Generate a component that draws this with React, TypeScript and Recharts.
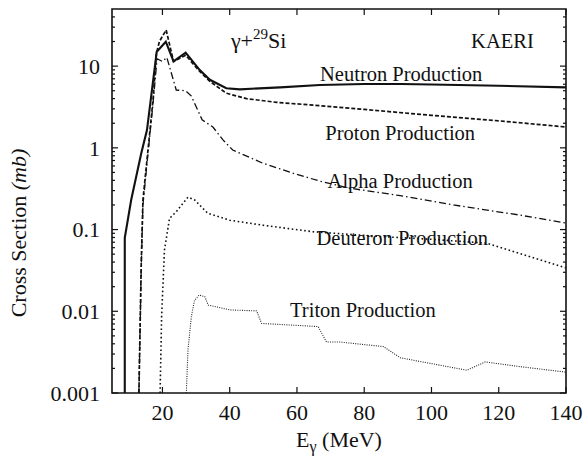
import React from 'react';
import { LineChart, Line, XAxis, YAxis, ReferenceDot, ReferenceArea, Label } from 'recharts';

// ---- data (E in MeV, cross section in mb) ----
const neutronE = [8.8, 8.8, 10.7, 13.7, 15.4, 18.3, 21.0, 23.3, 26.9, 31.1, 34.1, 39.0, 43.0, 55.0, 66.8, 80, 91, 100, 120, 140];
const neutronV = [0.001, 0.079, 0.23, 0.86, 1.65, 15.0, 19.9, 11.4, 14.6, 8.95, 6.8, 5.36, 5.2, 5.5, 5.87, 6.05, 6.05, 5.95, 5.75, 5.5];

const protonE = [13.0, 13.7, 14.2, 15.7, 17.2, 18.2, 19.1, 21.1, 23.3, 26.9, 31.1, 34.1, 39.0, 45.0, 54.0, 62, 80, 100, 120, 140];
const protonV = [0.001, 0.039, 0.23, 0.94, 3.85, 14.3, 20.0, 27.7, 11.4, 13.6, 8.6, 6.5, 4.66, 4.0, 3.6, 3.4, 2.95, 2.5, 2.14, 1.8];

const alphaE = [13.0, 13.7, 14.2, 15.7, 17.2, 18.4, 20.0, 21.3, 24.1, 26.9, 28.6, 31.8, 35.0, 38.0, 40.9, 49.8, 58.8, 66.9, 75.8, 90.7, 106.5, 126.4, 140];
const alphaV = [0.001, 0.035, 0.2, 0.85, 3.5, 12.3, 11.4, 12.8, 5.1, 5.0, 4.3, 2.2, 1.8, 1.25, 0.94, 0.65, 0.49, 0.39, 0.32, 0.26, 0.2, 0.15, 0.12];

const deuteronE = [19.3, 19.75, 20.6, 22.1, 24.1, 27.6, 29.6, 33.5, 40.0, 49.9, 64.8, 85, 100, 116.5, 140];
const deuteronV = [0.001, 0.0086, 0.056, 0.137, 0.165, 0.25, 0.23, 0.158, 0.13, 0.113, 0.094, 0.082, 0.076, 0.068, 0.034];

const tritonE = [27.1, 27.6, 28.6, 29.5, 30.9, 32.6, 33.6, 40.0, 48.0, 49.5, 66.3, 68.8, 72.8, 85.7, 90.7, 110.5, 116, 126.4, 140];
const tritonV = [0.001, 0.0034, 0.0086, 0.0135, 0.0158, 0.0151, 0.0119, 0.0104, 0.0101, 0.0071, 0.0065, 0.0042, 0.0042, 0.0037, 0.0027, 0.0019, 0.0024, 0.0021, 0.0018];

const xTicks = [20, 40, 60, 80, 100, 120, 140];
const yMajor = [0.001, 0.01, 0.1, 1, 10];
const yMajorLabels = ['0.001', '0.01', '0.1', '1', '10'];
const yMinorMult = [2, 3, 4, 5, 6, 7, 8, 9];

const zip = (es: number[], vs: number[]) => es.map((e, i) => ({ e, v: vs[i] }));
const neutron = zip(neutronE, neutronV);
const proton = zip(protonE, protonV);
const alpha = zip(alphaE, alphaV);
const deuteron = zip(deuteronE, deuteronV);
const triton = zip(tritonE, tritonV);

const yTicks: number[] = [];
yMajor.forEach((d) => {
  yTicks.push(d);
  yMinorMult.forEach((m) => {
    const t = +(d * m).toPrecision(3);
    if (t < 50) yTicks.push(t);
  });
});

// ---- layout ----
const W = 588;
const H = 466;
const M = { top: 9, right: 22, bottom: 0, left: 0 };
const YW = 112;
const XH = 73;
const PW = W - M.left - M.right - YW;
const PH = H - M.top - M.bottom - XH;
const FONT = "'Liberation Serif', 'Times New Roman', Times, 'DejaVu Serif', serif";
const INK = '#111';
const tstyle = (size: number): React.CSSProperties => ({ fontFamily: FONT, fontSize: size, fill: INK });

const YTick = (p: any) => {
  const { x, y, payload } = p;
  const v = payload.value;
  const idx = yMajor.indexOf(v);
  const major = idx >= 0;
  const len = major ? 6 : 3;
  return (
    <g>
      <line x1={x} x2={x + len} y1={y} y2={y} stroke={INK} strokeWidth={1.2} />
      <line x1={x + PW} x2={x + PW - len} y1={y} y2={y} stroke={INK} strokeWidth={1.2} />
      {major && (
        <text x={x - 12} y={y} dy="0.35em" textAnchor="end" style={tstyle(22)}>
          {yMajorLabels[idx]}
        </text>
      )}
    </g>
  );
};

const XTick = (p: any) => {
  const { x, y, payload } = p;
  return (
    <g>
      <line x1={x} x2={x} y1={y} y2={y - 6} stroke={INK} strokeWidth={1.2} />
      <line x1={x} x2={x} y1={y - PH} y2={y - PH + 6} stroke={INK} strokeWidth={1.2} />
      <text x={x} y={y + 27} textAnchor="middle" style={tstyle(22)}>
        {payload.value}
      </text>
    </g>
  );
};

const XTitle = (p: any) => {
  const vb = p.viewBox;
  return (
    <text x={vb.x + vb.width / 2} y={vb.y + 54} textAnchor="middle" style={tstyle(22)}>
      <tspan>E</tspan>
      <tspan dy={5} style={{ fontSize: 16 }}>γ</tspan>
      <tspan dy={-5}> (MeV)</tspan>
    </text>
  );
};

const YTitle = (p: any) => {
  const vb = p.viewBox;
  const cx = vb.x + 26;
  const cy = vb.y + vb.height / 2 + 32;
  return (
    <text x={cx} y={cy} transform={`rotate(-90 ${cx} ${cy})`} textAnchor="middle" style={tstyle(22)}>
      <tspan>Cross Section </tspan>
      <tspan style={{ fontStyle: 'italic' }}>(mb)</tspan>
    </text>
  );
};

const textLabel = (content: React.ReactNode, size: number) => (p: any) => {
  const vb = p.viewBox || {};
  const cx = (vb.x ?? p.x ?? 0) + (vb.width ?? 0) / 2;
  const cy = (vb.y ?? p.y ?? 0) + (vb.height ?? 0) / 2;
  return (
    <text x={cx} y={cy} dy="0.35em" textAnchor="middle" style={tstyle(size)}>
      {content}
    </text>
  );
};

const annotations = [
  { e: 48.6, v: 20.9, size: 22, content: (<><tspan>γ+</tspan><tspan dy={-9} style={{ fontSize: 15 }}>29</tspan><tspan dy={9}>Si</tspan></>) },
  { e: 121.1, v: 20.4, size: 20.5, content: 'KAERI' },
  { e: 91.0, v: 8.0, size: 20.5, content: 'Neutron Production' },
  { e: 90.7, v: 1.52, size: 20.5, content: 'Proton Production' },
  { e: 90.7, v: 0.39, size: 20.5, content: 'Alpha Production' },
  { e: 91.3, v: 0.079, size: 20.5, content: 'Deuteron Production' },
  { e: 79.6, v: 0.0104, size: 20.5, content: 'Triton Production' },
];

export default function App() {
  return (
    <div style={{ position: 'absolute', left: 0, top: 0, background: '#fff' }}>
      <LineChart width={W} height={H} margin={M}>
        <XAxis
          type="number"
          dataKey="e"
          domain={[5, 140]}
          ticks={xTicks}
          interval={0}
          tick={XTick}
          tickSize={0}
          tickMargin={0}
          tickLine={false}
          axisLine={false}
          height={XH}
          allowDataOverflow
        >
          <Label content={XTitle} />
        </XAxis>
        <YAxis
          type="number"
          scale="log"
          domain={[0.001, 50]}
          ticks={yTicks}
          interval={0}
          tick={YTick}
          tickSize={0}
          tickMargin={0}
          tickLine={false}
          axisLine={false}
          width={YW}
          allowDataOverflow
        >
          <Label content={YTitle} />
        </YAxis>
        <ReferenceArea x1={5} x2={140} y1={0.001} y2={50} fill="none" stroke={INK} strokeWidth={1.6} ifOverflow="visible" />
        <Line data={triton} dataKey="v" type="linear" dot={false} stroke="#222" strokeWidth={1.1} strokeDasharray="1 1.3" isAnimationActive={false} />
        <Line data={deuteron} dataKey="v" type="linear" dot={false} stroke={INK} strokeWidth={1.6} strokeDasharray="1.6 2.6" isAnimationActive={false} />
        <Line data={alpha} dataKey="v" type="linear" dot={false} stroke={INK} strokeWidth={1.3} strokeDasharray="7 3 1.5 3" isAnimationActive={false} />
        <Line data={proton} dataKey="v" type="linear" dot={false} stroke={INK} strokeWidth={1.7} strokeDasharray="4 2" isAnimationActive={false} />
        <Line data={neutron} dataKey="v" type="linear" dot={false} stroke={INK} strokeWidth={2.1} isAnimationActive={false} />
        {annotations.map((a, i) => (
          <ReferenceDot key={i} x={a.e} y={a.v} r={0} fill="none" stroke="none" ifOverflow="visible" label={textLabel(a.content, a.size)} />
        ))}
      </LineChart>
    </div>
  );
}
